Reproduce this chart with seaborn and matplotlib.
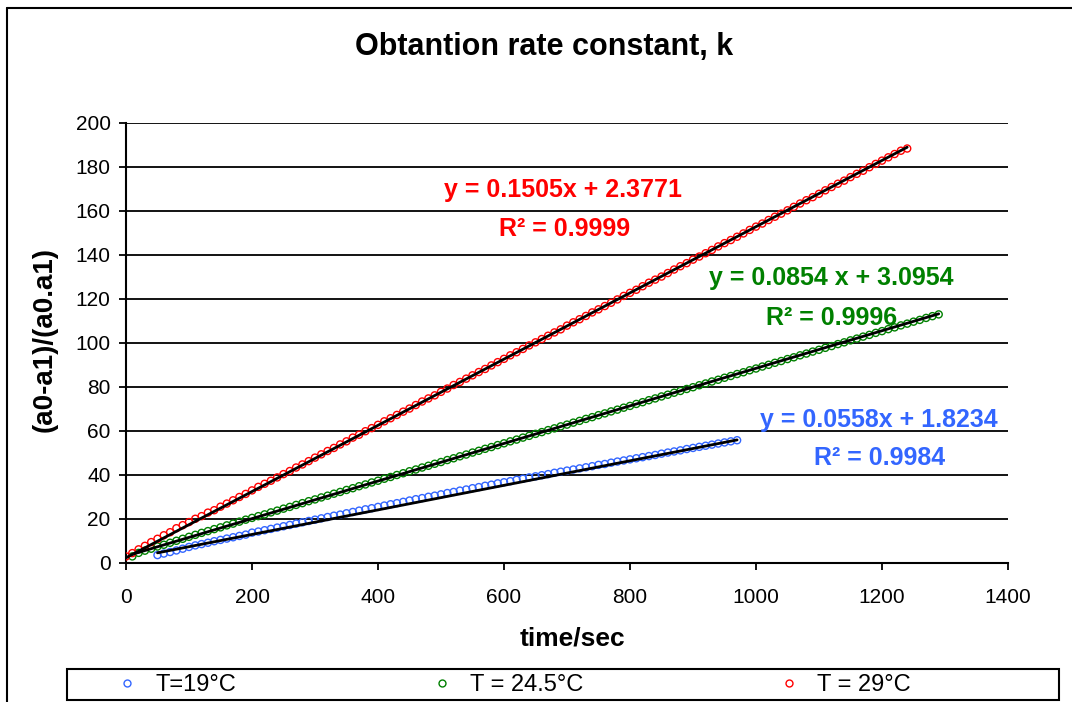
import numpy as np
import pandas as pd
import matplotlib
matplotlib.use("Agg")
import matplotlib.pyplot as plt
from matplotlib.lines import Line2D
import seaborn as sns

# ---------------- data ----------------
red_time = list(range(0, 1250, 10))
red_val = [3.0, 4.5, 6.2, 7.8, 9.5, 11.0, 12.6, 14.0, 15.8, 17.2,
           18.6, 20.1, 21.3, 22.9, 24.0, 25.6, 27.0, 28.5, 30.0, 31.4,
           33.0, 34.6, 36.0, 37.4, 38.9, 40.4, 41.8, 43.4, 44.8, 46.3,
           47.9, 49.4, 50.9, 52.3, 53.9, 55.3, 57.0, 58.3, 59.9, 61.3,
           62.8, 64.4, 65.8, 67.3, 68.8, 70.2, 71.8, 73.4, 74.8, 76.2,
           77.8, 79.3, 80.9, 82.3, 83.8, 85.3, 86.8, 88.2, 89.8, 91.3,
           92.8, 94.4, 95.8, 97.3, 98.9, 100.3, 101.8, 103.3, 104.8, 106.2,
           107.9, 109.4, 110.8, 112.3, 113.9, 115.3, 116.8, 118.3, 119.8, 121.4,
           122.8, 124.2, 125.8, 127.4, 128.8, 130.2, 131.8, 133.4, 134.9, 136.3,
           137.9, 139.3, 140.8, 142.3, 143.9, 145.4, 146.8, 148.3, 149.8, 151.4,
           152.9, 154.3, 155.9, 157.4, 158.8, 160.3, 161.9, 163.4, 164.9, 166.3,
           167.8, 169.4, 170.9, 172.4, 173.8, 175.4, 176.9, 178.3, 179.9, 181.4,
           182.9, 184.4, 185.9, 187.4, 188.4]

green_time = list(range(10, 1300, 10))
green_val = [3.0, 4.6, 5.6, 6.5, 7.5, 8.3, 9.2, 10.1, 11.0, 11.9,
             12.8, 13.7, 14.5, 15.4, 16.2, 17.1, 17.9, 18.8, 19.7, 20.5,
             21.3, 22.1, 23.0, 23.8, 24.7, 25.5, 26.4, 27.2, 28.1, 28.9,
             29.8, 30.6, 31.5, 32.3, 33.2, 34.0, 34.9, 35.7, 36.6, 37.4,
             38.3, 39.1, 40.0, 40.8, 41.7, 42.5, 43.4, 44.2, 45.1, 45.9,
             46.8, 47.6, 48.5, 49.3, 50.2, 51.0, 51.9, 52.7, 53.6, 54.4,
             55.3, 56.1, 57.0, 57.8, 58.7, 59.5, 60.4, 61.2, 62.1, 62.9,
             63.8, 64.6, 65.5, 66.3, 67.2, 68.0, 68.9, 69.7, 70.6, 71.4,
             72.3, 73.1, 74.0, 74.8, 75.7, 76.5, 77.4, 78.2, 79.1, 79.9,
             80.8, 81.6, 82.5, 83.3, 84.2, 85.0, 85.9, 86.7, 87.6, 88.4,
             89.3, 90.1, 91.0, 91.8, 92.7, 93.5, 94.4, 95.2, 96.1, 96.9,
             97.8, 98.6, 99.5, 100.3, 101.2, 102.0, 102.9, 103.7, 104.6, 105.4,
             106.3, 107.1, 108.0, 108.8, 109.7, 110.5, 111.4, 112.2, 113.0]

blue_time = list(range(50, 980, 10))
blue_val = [3.6, 4.3, 5.0, 5.7, 6.5, 7.3, 8.0, 8.6, 9.2, 9.9,
            10.5, 11.1, 11.7, 12.3, 12.9, 13.8, 14.3, 14.9, 15.5, 16.1,
            16.7, 17.3, 17.9, 18.5, 19.1, 19.7, 20.3, 20.9, 21.5, 22.0,
            22.6, 23.2, 23.8, 24.4, 24.9, 25.5, 26.1, 26.7, 27.2, 27.8,
            28.4, 29.0, 29.5, 30.1, 30.6, 31.2, 31.8, 32.3, 32.9, 33.4,
            34.0, 34.5, 35.1, 35.6, 36.2, 36.7, 37.2, 37.8, 38.3, 38.9,
            39.4, 39.9, 40.4, 41.0, 41.5, 42.0, 42.5, 43.0, 43.5, 44.0,
            44.6, 45.0, 45.6, 46.1, 46.6, 47.1, 47.6, 48.1, 48.6, 49.1,
            49.7, 50.2, 50.7, 51.2, 51.8, 52.3, 52.8, 53.3, 53.8, 54.3,
            54.8, 55.3, 55.8]

series_labels = ["T=19°C", "T = 24.5°C", "T = 29°C"]
trend_slope = [0.0558, 0.0854, 0.1505]
trend_intercept = [1.8234, 3.0954, 2.3771]
eq_texts = ["y = 0.0558x + 1.8234", "y = 0.0854 x + 3.0954", "y = 0.1505x + 2.3771"]
r2_texts = ["R² = 0.9984", "R² = 0.9996", "R² = 0.9999"]

x_ticks = [0, 200, 400, 600, 800, 1000, 1200, 1400]
y_ticks = [0, 20, 40, 60, 80, 100, 120, 140, 160, 180, 200]

# ---------------- styling ----------------
sns.set_style("ticks")
plt.rcParams["font.family"] = ["Liberation Sans", "DejaVu Sans"]
plt.rcParams.update({"text.color": "black", "axes.labelcolor": "black",
                     "xtick.color": "black", "ytick.color": "black"})
colors = ["#3366FF", "#008000", "#FF0000"]

W, H = 1072, 702
fig = plt.figure(figsize=(W / 100, H / 100), dpi=100)
fig.patch.set_facecolor("white")


def fx(px):
    return px / W


def fy(py):
    return 1 - py / H


ax = fig.add_axes([fx(126), fy(563), fx(1008) - fx(126), fy(123) - fy(563)])

frames = []
for t, v, lab in zip([blue_time, green_time, red_time],
                     [blue_val, green_val, red_val], series_labels):
    frames.append(pd.DataFrame({"time": t, "value": v, "series": lab}))
df = pd.concat(frames, ignore_index=True)

for lab, col in zip(series_labels, colors):
    sub = df[df["series"] == lab]
    sns.scatterplot(data=sub, x="time", y="value", ax=ax, marker="o", s=26,
                    facecolors="none", edgecolor=col, color=col,
                    linewidth=1.0, legend=False, zorder=3)

# trend lines (from the equations shown on the chart)
for lab, m, b in zip(series_labels, trend_slope, trend_intercept):
    sub = df[df["series"] == lab]
    xs = np.array([sub["time"].min(), sub["time"].max()])
    ax.plot(xs, m * xs + b, color="black", lw=2.0, zorder=4)

ax.set_xlim(0, 1400)
ax.set_ylim(0, 200)
ax.set_xticks(x_ticks)
ax.set_yticks(y_ticks)
ax.tick_params(axis="both", direction="out", length=5, width=1.3,
               colors="black", labelsize=15)
ax.tick_params(axis="y", pad=6)
ax.tick_params(axis="x", pad=13)
ax.yaxis.grid(True, color="black", lw=1.3)
ax.xaxis.grid(False)
ax.set_axisbelow(True)
for s in ["top", "right"]:
    ax.spines[s].set_visible(False)
for s in ["left", "bottom"]:
    ax.spines[s].set_color("black")
    ax.spines[s].set_linewidth(1.5)
ax.set_xlabel("")
ax.set_ylabel("")
ax.set_facecolor("white")

# axis labels and title
fig.text(fx(572), fy(638), "time/sec", ha="center", va="center",
         fontsize=19, fontweight="bold")
fig.text(fx(45), fy(340), "(a0-a1)/(a0.a1)", ha="center", va="center",
         rotation=90, fontsize=20, fontweight="bold")
fig.text(fx(544), fy(47), "Obtantion rate constant, k", ha="center",
         va="center", fontsize=22, fontweight="bold")

# equation labels
eq_pos = [((879, 420), (880, 458)), ((831, 278), (832, 318)), ((563, 190), (565, 229))]
for (p1, p2), e, r, col in zip(eq_pos, eq_texts, r2_texts, colors):
    fig.text(fx(p1[0]), fy(p1[1]), e, ha="center", va="center",
             fontsize=18, fontweight="bold", color=col)
    fig.text(fx(p2[0]), fy(p2[1]), r, ha="center", va="center",
             fontsize=18, fontweight="bold", color=col)

# outer chart border
fig.add_artist(Line2D([fx(7), fx(1075)], [fy(8), fy(8)], color="black", lw=1.5))
fig.add_artist(Line2D([fx(7), fx(7)], [fy(8), fy(705)], color="black", lw=1.5))

# legend box
fig.add_artist(plt.Rectangle((fx(67), fy(700)), fx(1059) - fx(67), fy(669) - fy(700),
                             fill=False, edgecolor="black", lw=1.5))
handles = [Line2D([], [], ls="none", marker="o", markersize=5,
                  markerfacecolor="none", markeredgecolor=c, markeredgewidth=1.0)
           for c in colors]
fig.legend(handles, series_labels, loc="center left",
           bbox_to_anchor=(fx(118), fy(685)), ncol=3, frameon=False,
           fontsize=17, handlelength=0.8, handletextpad=0.8,
           columnspacing=8.3, borderpad=0.0, borderaxespad=0.0)

fig.savefig("out.png", dpi=100, facecolor="white")
